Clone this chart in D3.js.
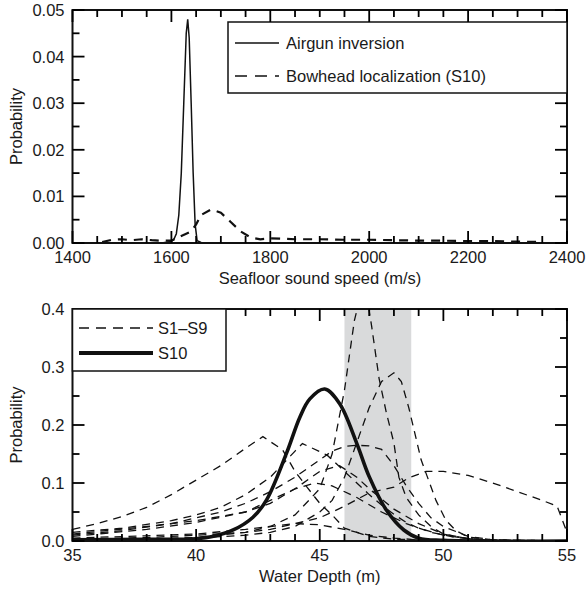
<!DOCTYPE html>
<html>
<head>
<meta charset="utf-8">
<script src="https://cdn.jsdelivr.net/npm/d3@7"></script>
<style>
  body { margin: 0; background: #fff; }
  svg { font-family: "Liberation Sans", Arial, sans-serif; }
</style>
</head>
<body>
<script>
// ---- top panel data ----
const speedAirgun = [1400, 1580, 1600, 1605, 1610, 1615, 1620, 1625, 1630, 1633, 1636, 1640, 1644, 1648, 1652, 1660, 1700];
const probAirgun  = [0, 0, 0.0003, 0.0008, 0.002, 0.006, 0.015, 0.03, 0.045, 0.048, 0.044, 0.03, 0.015, 0.004, 0.0005, 0.0001, 0];
const speedBowhead = [1460, 1480, 1500, 1520, 1540, 1560, 1580, 1600, 1620, 1640, 1650, 1660, 1680, 1700, 1720, 1740, 1760, 1780, 1800, 1850, 1900, 1950, 2000, 2050, 2100, 2150, 2200, 2250, 2300, 2350];
const probBowhead  = [0.0002, 0.0007, 0.0008, 0.0006, 0.0008, 0.0006, 0.0005, 0.0005, 0.0015, 0.0025, 0.004, 0.006, 0.0072, 0.0065, 0.0045, 0.0025, 0.0012, 0.0008, 0.001, 0.0008, 0.0008, 0.0007, 0.0007, 0.0006, 0.0005, 0.0005, 0.0004, 0.0004, 0.0003, 0.0002];
const topXTicks = [1400, 1600, 1800, 2000, 2200, 2400];
const topYTicks = [0, 0.01, 0.02, 0.03, 0.04, 0.05];

// ---- bottom panel data ----
const depthS10 = [35, 38, 40, 40.7, 41.5, 42.3, 42.85, 43.66, 44.2, 44.6, 45.2, 45.8, 46.5, 47, 47.7, 48.4, 49, 50, 55];
const probS10  = [0.002, 0.003, 0.004, 0.008, 0.019, 0.041, 0.071, 0.152, 0.214, 0.245, 0.262, 0.237, 0.168, 0.111, 0.053, 0.019, 0.005, 0.001, 0];
const scenarios = [
  { x: [35, 36, 37, 38, 39, 40, 41, 42, 42.7, 43.5, 44, 44.5, 45, 45.5, 46, 47, 48, 50, 55],
    y: [0.02, 0.03, 0.042, 0.058, 0.08, 0.105, 0.13, 0.16, 0.18, 0.157, 0.12, 0.092, 0.065, 0.045, 0.022, 0.008, 0.003, 0.001, 0] },
  { x: [35, 38, 40, 42, 43, 44, 45, 45.5, 46, 46.4, 46.8, 47.1, 47.4, 47.7, 48, 48.2, 48.5, 49, 49.5, 50, 51, 52, 55],
    y: [0.001, 0.003, 0.006, 0.015, 0.025, 0.045, 0.09, 0.15, 0.26, 0.38, 0.45, 0.37, 0.28, 0.22, 0.169, 0.11, 0.075, 0.045, 0.025, 0.012, 0.004, 0.001, 0] },
  { x: [35, 40, 42, 43, 44, 45, 45.5, 46, 46.5, 47, 47.5, 48, 48.3, 48.6, 49.1, 49.7, 50.1, 50.5, 51, 52, 55],
    y: [0.002, 0.005, 0.01, 0.015, 0.025, 0.05, 0.07, 0.11, 0.17, 0.23, 0.275, 0.29, 0.275, 0.23, 0.14, 0.07, 0.036, 0.018, 0.007, 0.002, 0] },
  { x: [35, 38, 40, 42, 43, 44, 45, 46, 47, 48, 48.6, 49.3, 50, 51, 52, 53, 54, 54.6, 55],
    y: [0.003, 0.006, 0.01, 0.015, 0.02, 0.03, 0.04, 0.06, 0.083, 0.093, 0.109, 0.12, 0.12, 0.113, 0.1, 0.085, 0.07, 0.06, 0.015] },
  { x: [35, 37, 39, 41, 42, 43, 44, 45, 45.5, 46, 46.5, 47, 47.5, 48, 48.5, 49, 49.5, 50, 51, 52, 55],
    y: [0.01, 0.018, 0.03, 0.05, 0.065, 0.085, 0.11, 0.14, 0.155, 0.163, 0.165, 0.164, 0.158, 0.13, 0.095, 0.065, 0.04, 0.025, 0.008, 0.002, 0] },
  { x: [35, 37, 39, 40, 41, 42, 43, 44, 44.3, 45.3, 46, 46.5, 47, 47.5, 48, 48.5, 49, 50, 51, 52, 55],
    y: [0.015, 0.022, 0.035, 0.045, 0.058, 0.08, 0.11, 0.155, 0.168, 0.148, 0.12, 0.1, 0.08, 0.062, 0.046, 0.032, 0.022, 0.01, 0.004, 0.001, 0] },
  { x: [35, 38, 40, 42, 43, 44, 45, 45.8, 46.5, 47, 48, 49, 50, 51, 52, 55],
    y: [0.008, 0.02, 0.032, 0.05, 0.065, 0.09, 0.12, 0.13, 0.11, 0.09, 0.055, 0.03, 0.012, 0.004, 0.001, 0] },
  { x: [35, 38, 40, 42, 43, 44, 44.8, 45.5, 46.5, 47.5, 48.5, 49.5, 50.5, 52, 55],
    y: [0.012, 0.025, 0.035, 0.05, 0.07, 0.09, 0.1, 0.095, 0.075, 0.05, 0.03, 0.015, 0.006, 0.001, 0] },
  { x: [35, 38, 40, 42, 43, 44, 45, 46, 47, 48, 49, 50, 55],
    y: [0.005, 0.009, 0.012, 0.02, 0.025, 0.03, 0.028, 0.02, 0.01, 0.005, 0.002, 0.0005, 0] }
];
const bandRange = [46, 48.7];
const botXTicks = [35, 40, 45, 50, 55];
const botYTicks = [0, 0.1, 0.2, 0.3, 0.4];

const W = 587, H = 590, FS = 16.5;
const svg = d3.select("body").append("svg").attr("width", W).attr("height", H);

// tick segments for a panel, skipping anything inside a legend box
function tickSegs(x, y, xMajor, xMinor, yMajor, yMinor, box) {
  const [X0, X1] = x.range(), [Yb, Yt] = y.range();
  const isMaj = (list, v) => list.some(m => Math.abs(m - v) < 1e-9);
  const segs = [];
  xMinor.forEach(v => {
    const L = isMaj(xMajor, v) ? 12 : 7;
    segs.push([x(v), Yb, x(v), Yb - L], [x(v), Yt, x(v), Yt + L]);
  });
  yMinor.forEach(v => {
    const L = isMaj(yMajor, v) ? 12 : 7;
    segs.push([X0, y(v), X0 + L, y(v)], [X1, y(v), X1 - L, y(v)]);
  });
  const inside = (px, py) => px > box[0] && px < box[2] && py > box[1] && py < box[3];
  return segs.filter(s => !inside((s[0] + s[2]) / 2, Math.max(s[1], s[3])) && !inside((s[0] + s[2]) / 2 + 1, (s[1] + s[3]) / 2));
}

function labels(g, x, y, xMajor, yMajor, xFmt, yFmt) {
  const [X0] = x.range(), [Yb] = y.range();
  g.append("g").selectAll("text").data(xMajor).join("text")
    .attr("x", d => x(d)).attr("y", Yb + 20).attr("text-anchor", "middle")
    .attr("font-size", FS).attr("fill", "#1a1a1a").text(xFmt);
  g.append("g").selectAll("text").data(yMajor).join("text")
    .attr("x", X0 - 8).attr("y", d => y(d) + 6).attr("text-anchor", "end")
    .attr("font-size", FS).attr("fill", "#1a1a1a").text(yFmt);
}

const defs = svg.append("defs");
defs.append("clipPath").attr("id", "clipTop").append("rect")
  .attr("x", 72.5).attr("y", 10).attr("width", 494.5).attr("height", 233);
defs.append("clipPath").attr("id", "clipBot").append("rect")
  .attr("x", 72.5).attr("y", 309).attr("width", 494.5).attr("height", 232);

// ================= top panel =================
const tx = d3.scaleLinear().domain([1400, 2400]).range([72.5, 567]);
const ty = d3.scaleLinear().domain([0, 0.05]).range([243, 10]);
const topG = svg.append("g");
const lineT = d3.line().x(d => tx(d[0])).y(d => ty(d[1]));
topG.append("path").datum(d3.zip(speedBowhead, probBowhead)).attr("d", lineT)
  .attr("clip-path", "url(#clipTop)")
  .attr("fill", "none").attr("stroke", "#111").attr("stroke-width", 2.2).attr("stroke-dasharray", "9,7");
topG.append("path").datum(d3.zip(speedAirgun, probAirgun)).attr("d", lineT)
  .attr("clip-path", "url(#clipTop)")
  .attr("fill", "none").attr("stroke", "#111").attr("stroke-width", 1.5);
topG.append("rect").attr("x", 72.5).attr("y", 10).attr("width", 494.5).attr("height", 233)
  .attr("fill", "none").attr("stroke", "#111").attr("stroke-width", 2);
labels(topG, tx, ty, topXTicks, topYTicks, d => d, d => d.toFixed(2));

const lg = topG.append("g");
lg.append("rect").attr("x", 228).attr("y", 22).attr("width", 339).attr("height", 71)
  .attr("fill", "#fff").attr("stroke", "#111").attr("stroke-width", 1.5);
lg.append("line").attr("x1", 235).attr("x2", 279).attr("y1", 43).attr("y2", 43)
  .attr("stroke", "#111").attr("stroke-width", 1.5);
lg.append("line").attr("x1", 235).attr("x2", 279).attr("y1", 76).attr("y2", 76)
  .attr("stroke", "#111").attr("stroke-width", 1.5).attr("stroke-dasharray", "12,8");
lg.append("text").attr("x", 286).attr("y", 49).attr("font-size", FS).attr("fill", "#1a1a1a").text("Airgun inversion");
lg.append("text").attr("x", 286).attr("y", 82).attr("font-size", FS).attr("fill", "#1a1a1a").text("Bowhead localization (S10)");

topG.append("text").attr("x", 320).attr("y", 284).attr("text-anchor", "middle")
  .attr("font-size", FS).attr("fill", "#1a1a1a").text("Seafloor sound speed (m/s)");
topG.append("text").attr("transform", `translate(22,${(10 + 243) / 2}) rotate(-90)`)
  .attr("text-anchor", "middle").attr("font-size", FS).attr("fill", "#1a1a1a").text("Probability");

// ================= bottom panel =================
const bx = d3.scaleLinear().domain([35, 55]).range([72.5, 567]);
const by = d3.scaleLinear().domain([0, 0.4]).range([541, 309]);
const botG = svg.append("g");
botG.append("rect").attr("x", bx(bandRange[0])).attr("y", 309)
  .attr("width", bx(bandRange[1]) - bx(bandRange[0])).attr("height", 232).attr("fill", "#d9dadb");
const lineB = d3.line().x(d => bx(d[0])).y(d => by(d[1]));
botG.append("g").attr("clip-path", "url(#clipBot)").selectAll("path").data(scenarios).join("path")
  .attr("d", s => lineB(d3.zip(s.x, s.y)))
  .attr("fill", "none").attr("stroke", "#111").attr("stroke-width", 1.3).attr("stroke-dasharray", "8,6");
botG.append("path").datum(d3.zip(depthS10, probS10)).attr("d", lineB.curve(d3.curveCatmullRom))
  .attr("clip-path", "url(#clipBot)")
  .attr("fill", "none").attr("stroke", "#111").attr("stroke-width", 3.6).attr("stroke-linejoin", "round");
botG.append("rect").attr("x", 72.5).attr("y", 309).attr("width", 494.5).attr("height", 232)
  .attr("fill", "none").attr("stroke", "#111").attr("stroke-width", 2);
labels(botG, bx, by, botXTicks, botYTicks, d => d, d => d.toFixed(1));

const lb = botG.append("g");
lb.append("rect").attr("x", 72.5).attr("y", 309).attr("width", 153.5).attr("height", 62)
  .attr("fill", "#fff").attr("stroke", "#111").attr("stroke-width", 1.5);
lb.append("line").attr("x1", 79).attr("x2", 153).attr("y1", 328).attr("y2", 328)
  .attr("stroke", "#111").attr("stroke-width", 1.3).attr("stroke-dasharray", "10,7");
lb.append("line").attr("x1", 79).attr("x2", 153).attr("y1", 353).attr("y2", 353)
  .attr("stroke", "#111").attr("stroke-width", 4);
lb.append("text").attr("x", 158).attr("y", 334).attr("font-size", FS).attr("fill", "#1a1a1a").text("S1\u2013S9");
lb.append("text").attr("x", 158).attr("y", 359).attr("font-size", FS).attr("fill", "#1a1a1a").text("S10");

botG.append("text").attr("x", bx(45)).attr("y", 582).attr("text-anchor", "middle")
  .attr("font-size", FS).attr("fill", "#1a1a1a").text("Water Depth (m)");
botG.append("text").attr("transform", `translate(22,${(309 + 541) / 2}) rotate(-90)`)
  .attr("text-anchor", "middle").attr("font-size", FS).attr("fill", "#1a1a1a").text("Probability");

// ================= ticks, drawn last on top of everything =================
const allTicks = tickSegs(tx, ty, topXTicks, d3.range(1400, 2401, 50), topYTicks, d3.range(0, 0.0501, 0.005), [228, 22, 568, 93])
  .concat(tickSegs(bx, by, botXTicks, d3.range(35, 55.01, 1), botYTicks, d3.range(0, 0.401, 0.05), [71, 308, 226, 371]));
svg.append("g").selectAll("line").data(allTicks).join("line")
  .attr("x1", d => d[0]).attr("y1", d => d[1]).attr("x2", d => d[2]).attr("y2", d => d[3])
  .attr("stroke", "#000").attr("stroke-width", 1.8);
</script>
</body>
</html>
